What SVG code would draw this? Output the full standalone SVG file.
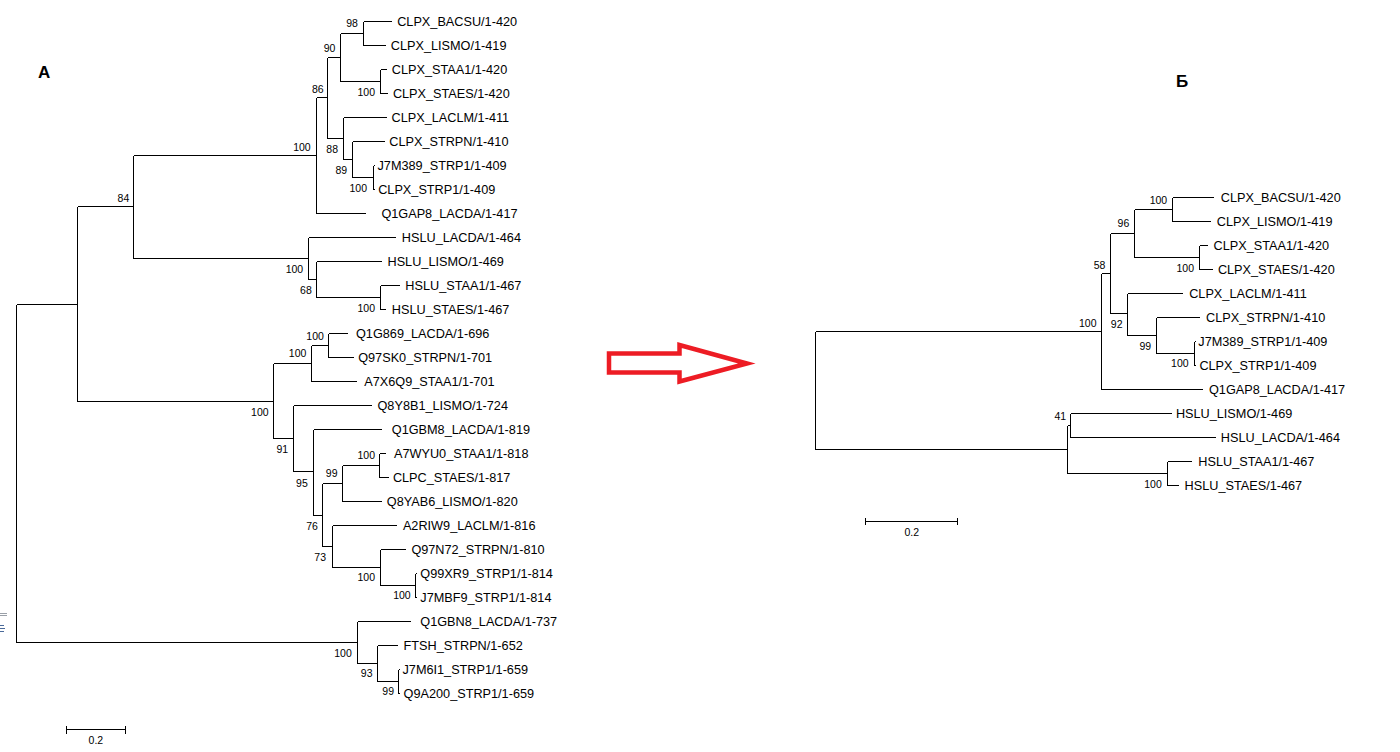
<svg xmlns="http://www.w3.org/2000/svg" width="1400" height="752" viewBox="0 0 1400 752">
<style>
.br{fill:none;stroke:#000;stroke-width:1;shape-rendering:crispEdges}
.lf{font-family:"Liberation Sans",Arial,sans-serif;font-size:12.7px;fill:#000}
.bs{font-family:"Liberation Sans",Arial,sans-serif;font-size:10.5px;fill:#000;text-anchor:end}
.sc{font-family:"Liberation Sans",Arial,sans-serif;font-size:10.5px;fill:#000;text-anchor:middle}
.ttl{font-family:"Liberation Sans",Arial,sans-serif;font-size:17px;font-weight:bold;fill:#000}
</style>
<rect width="1400" height="752" fill="#fff"/>
<text class="ttl" x="38" y="78">A</text>
<text class="ttl" x="1176" y="87">Б</text>
<g id="artifact" stroke="#9aa0a8" stroke-width="1" shape-rendering="crispEdges">
<line x1="0" y1="613.5" x2="7" y2="613.5"/><line x1="0" y1="615.5" x2="7" y2="615.5"/>
<line x1="0" y1="625.5" x2="4" y2="625.5" stroke="#4a6a9a"/><line x1="0" y1="628.5" x2="5" y2="628.5" stroke="#4a6a9a"/><line x1="0" y1="631.5" x2="4" y2="631.5" stroke="#4a6a9a"/>
</g>
<g id="connectors" class="br">
<!-- left tree -->
<path d="M16.5 304.5V642.5M16.5 304.5H77.5M16.5 642.5H357.5"/>
<path d="M77.5 206.5V401.5M77.5 206.5H133.5M77.5 401.5H273.5"/>
<path d="M133.5 155.5V258.5M133.5 155.5H316.5M133.5 258.5H308.5"/>
<path d="M316.5 97.5V213.5M316.5 97.5H327.5M316.5 213.5H366"/>
<path d="M327.5 57.5V138.5M327.5 57.5H340.5M327.5 138.5H343.5"/>
<path d="M340.5 33.5V81.5M340.5 33.5H363.5M340.5 81.5H380.5"/>
<path d="M363.5 21.5V45.5M363.5 21.5H392M363.5 45.5H386"/>
<path d="M380.5 69.5V93.5M380.5 69.5H386.5M380.5 93.5H388"/>
<path d="M343.5 117.5V159.5M343.5 117.5H387M343.5 159.5H352.5"/>
<path d="M352.5 141.5V177.5M352.5 141.5H385M352.5 177.5H373.5"/>
<path d="M373.5 165.5V189.5M373.5 165.5H375M373.5 189.5H375"/>
<path d="M308.5 237.5V279.5M308.5 237.5H396M308.5 279.5H316.5"/>
<path d="M316.5 261.5V297.5M316.5 261.5H381.5M316.5 297.5H380.5"/>
<path d="M380.5 285.5V309.5M380.5 285.5H400M380.5 309.5H386"/>
<path d="M273.5 363.5V438.5M273.5 363.5H311.5M273.5 438.5H293.5"/>
<path d="M311.5 345.5V381.5M311.5 345.5H328.5M311.5 381.5H356.5"/>
<path d="M328.5 333.5V357.5M328.5 333.5H347.5M328.5 357.5H353.5"/>
<path d="M293.5 405.5V471.5M293.5 405.5H371.5M293.5 471.5H313.5"/>
<path d="M313.5 429.5V515.5M313.5 429.5H382M313.5 515.5H322.5"/>
<path d="M322.5 483.5V546.5M322.5 483.5H342.5M322.5 546.5H332.5"/>
<path d="M342.5 465.5V501.5M342.5 465.5H379.5M342.5 501.5H381.5"/>
<path d="M379.5 453.5V477.5M379.5 453.5H386M379.5 477.5H388.5"/>
<path d="M332.5 525.5V567.5M332.5 525.5H396.5M332.5 567.5H380.5"/>
<path d="M380.5 549.5V585.5M380.5 549.5H406M380.5 585.5H415.5"/>
<path d="M415.5 573.5V597.5M415.5 573.5H417M415.5 597.5H417"/>
<path d="M357.5 621.5V663.5M357.5 621.5H410.5M357.5 663.5H377.5"/>
<path d="M377.5 645.5V681.5M377.5 645.5H397.5M377.5 681.5H398.5"/>
<path d="M398.5 669.5V693.5M398.5 669.5H400M398.5 693.5H400"/>
<!-- right tree -->
<path d="M815.5 331.5V449.5M815.5 331.5H1101.5M815.5 449.5H1067.5"/>
<path d="M1101.5 273.5V389.5M1101.5 273.5H1110.5M1101.5 389.5H1202.5"/>
<path d="M1110.5 233.5V313.5M1110.5 233.5H1134.5M1110.5 313.5H1127.5"/>
<path d="M1134.5 209.5V257.5M1134.5 209.5H1172.5M1134.5 257.5H1199.5"/>
<path d="M1172.5 197.5V221.5M1172.5 197.5H1214M1172.5 221.5H1210.5"/>
<path d="M1199.5 245.5V269.5M1199.5 245.5H1208M1199.5 269.5H1212.5"/>
<path d="M1127.5 293.5V335.5M1127.5 293.5H1183M1127.5 335.5H1156.5"/>
<path d="M1156.5 317.5V353.5M1156.5 317.5H1200M1156.5 353.5H1194.5"/>
<path d="M1194.5 341.5V365.5M1194.5 341.5H1196M1194.5 365.5H1196"/>
<path d="M1067.5 425.5V473.5M1067.5 425.5H1070.5M1067.5 473.5H1167.5"/>
<path d="M1070.5 413.5V437.5M1070.5 413.5H1171.5M1070.5 437.5H1216"/>
<path d="M1167.5 461.5V485.5M1167.5 461.5H1192M1167.5 485.5H1178.5"/>
<!-- scale bars -->
<path d="M66.5 729.5H125.5M66.5 725.5V733.5M125.5 725.5V733.5"/>
<path d="M865.5 521.5H957.5M865.5 518V525M957.5 518V525"/>
</g>
<g id="arrow">
<polygon points="609,353.5 679.5,353.5 679.5,345 747,363.5 679.5,381.5 679.5,372.5 609,372.5" fill="none" stroke="#ED1C24" stroke-width="4.5" stroke-linejoin="miter"/>
</g>
<g id="leaves-A" class="lf">
<text id="a0" x="397.2" y="25.6">CLPX_BACSU/1-420</text>
<text id="a1" x="390.8" y="49.6">CLPX_LISMO/1-419</text>
<text id="a2" x="391.8" y="73.6">CLPX_STAA1/1-420</text>
<text id="a3" x="392.9" y="97.6">CLPX_STAES/1-420</text>
<text id="a4" x="391.6" y="121.6">CLPX_LACLM/1-411</text>
<text id="a5" x="389.3" y="145.6">CLPX_STRPN/1-410</text>
<text id="a6" x="377.5" y="169.6">J7M389_STRP1/1-409</text>
<text id="a7" x="378.2" y="193.6">CLPX_STRP1/1-409</text>
<text id="a8" x="381.4" y="217.6">Q1GAP8_LACDA/1-417</text>
<text id="a9" x="401.8" y="241.6">HSLU_LACDA/1-464</text>
<text id="a10" x="387.5" y="265.6">HSLU_LISMO/1-469</text>
<text id="a11" x="405.3" y="289.6">HSLU_STAA1/1-467</text>
<text id="a12" x="391.8" y="313.6">HSLU_STAES/1-467</text>
<text id="a13" x="356" y="337.6">Q1G869_LACDA/1-696</text>
<text id="a14" x="358.2" y="361.6">Q97SK0_STRPN/1-701</text>
<text id="a15" x="364.3" y="385.6">A7X6Q9_STAA1/1-701</text>
<text id="a16" x="377.5" y="409.6">Q8Y8B1_LISMO/1-724</text>
<text id="a17" x="391.8" y="433.6">Q1GBM8_LACDA/1-819</text>
<text id="a18" x="394" y="457.6">A7WYU0_STAA1/1-818</text>
<text id="a19" x="392.9" y="481.6">CLPC_STAES/1-817</text>
<text id="a20" x="386.8" y="505.6">Q8YAB6_LISMO/1-820</text>
<text id="a21" x="402.9" y="529.6">A2RIW9_LACLM/1-816</text>
<text id="a22" x="411.4" y="553.6">Q97N72_STRPN/1-810</text>
<text id="a23" x="420.3" y="577.6">Q99XR9_STRP1/1-814</text>
<text id="a24" x="420.3" y="601.6">J7MBF9_STRP1/1-814</text>
<text id="a25" x="420.3" y="625.6">Q1GBN8_LACDA/1-737</text>
<text id="a26" x="403.6" y="649.6">FTSH_STRPN/1-652</text>
<text id="a27" x="402.5" y="673.6">J7M6I1_STRP1/1-659</text>
<text id="a28" x="403.6" y="697.6">Q9A200_STRP1/1-659</text>
</g>
<g id="support-A" class="bs">
<text x="357.9" y="26.5">98</text>
<text x="335.4" y="51.5">90</text>
<text x="323.6" y="92.8">86</text>
<text x="375" y="95.5">100</text>
<text x="310.7" y="150.5">100</text>
<text x="338" y="152.8">88</text>
<text x="347.1" y="173.8">89</text>
<text x="367" y="191.5">100</text>
<text x="129.3" y="202.1">84</text>
<text x="303.2" y="272.8">100</text>
<text x="311.8" y="293.8">68</text>
<text x="375" y="311.5">100</text>
<text x="323.9" y="339.5">100</text>
<text x="306.4" y="357.1">100</text>
<text x="268.6" y="415.5">100</text>
<text x="288.2" y="452.8">91</text>
<text x="375" y="458.8">100</text>
<text x="337.5" y="477.1">99</text>
<text x="307.8" y="486.5">95</text>
<text x="317.9" y="529.5">76</text>
<text x="326" y="560.5">73</text>
<text x="375" y="581.1">100</text>
<text x="410.7" y="598.8">100</text>
<text x="351.8" y="656.5">100</text>
<text x="372.5" y="677.1">93</text>
<text x="394" y="694.8">99</text>
</g>
<g id="leaves-B" class="lf">
<text id="b0" x="1220.8" y="201.6">CLPX_BACSU/1-420</text>
<text id="b1" x="1216.8" y="225.6">CLPX_LISMO/1-419</text>
<text id="b2" x="1213.6" y="249.6">CLPX_STAA1/1-420</text>
<text id="b3" x="1217.9" y="273.6">CLPX_STAES/1-420</text>
<text id="b4" x="1189.2" y="297.6">CLPX_LACLM/1-411</text>
<text id="b5" x="1206.1" y="321.6">CLPX_STRPN/1-410</text>
<text id="b6" x="1198.3" y="345.6">J7M389_STRP1/1-409</text>
<text id="b7" x="1199.4" y="369.6">CLPX_STRP1/1-409</text>
<text id="b8" x="1209" y="393.6">Q1GAP8_LACDA/1-417</text>
<text id="b9" x="1175.9" y="417.6">HSLU_LISMO/1-469</text>
<text id="b10" x="1220.8" y="441.6">HSLU_LACDA/1-464</text>
<text id="b11" x="1198.3" y="465.6">HSLU_STAA1/1-467</text>
<text id="b12" x="1184.6" y="489.6">HSLU_STAES/1-467</text>
</g>
<g id="support-B" class="bs">
<text x="1167.2" y="203.8">100</text>
<text x="1129.3" y="227.1">96</text>
<text x="1105.4" y="268.8">58</text>
<text x="1194" y="271.5">100</text>
<text x="1096.5" y="326.5">100</text>
<text x="1122.5" y="328.1">92</text>
<text x="1151.1" y="349.5">99</text>
<text x="1188.6" y="367.1">100</text>
<text x="1066.2" y="419.8">41</text>
<text x="1161.8" y="488.1">100</text>
</g>
<g id="scale-labels" class="sc">
<text x="95.9" y="743.8">0.2</text>
<text x="911.8" y="536.1">0.2</text>
</g>
</svg>
